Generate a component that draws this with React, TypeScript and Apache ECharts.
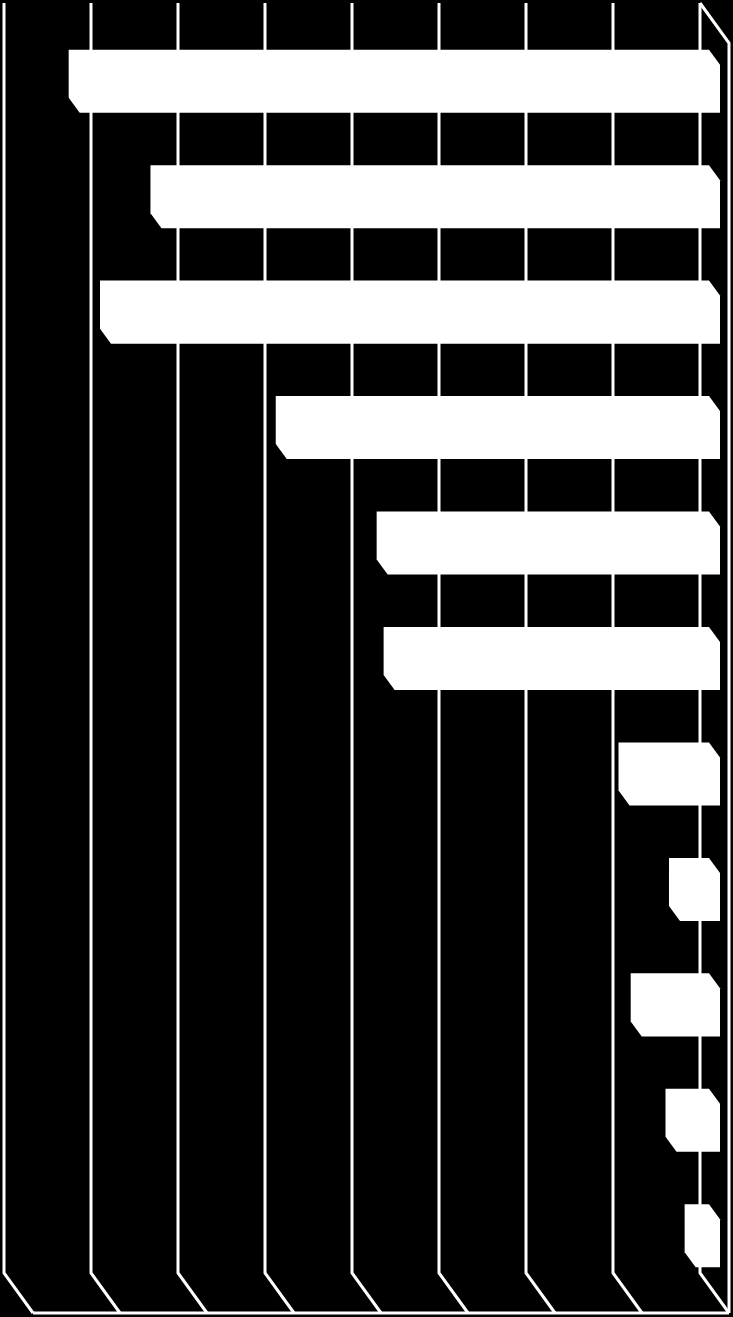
import React, { useEffect, useRef } from "react";
import * as echarts from "echarts";

const categories = ["1", "2", "3", "4", "5", "6", "7", "8", "9", "10", "11"];
const values = [36.8, 32.1, 35.0, 24.9, 19.1, 18.7, 5.2, 2.3, 4.5, 2.5, 1.4];
const ticks = [0, 5, 10, 15, 20, 25, 30, 35, 40];

// 3D depth offsets (px)
const DX = 29;
const DY = 40;
const BACK_DX = 9;
const BACK_DY = 13;
const FRONT_DX = 20;
const FRONT_DY = 28;
const BAR_FRACTION = 0.416;

export default function App() {
  const ref = useRef<HTMLDivElement>(null);

  useEffect(() => {
    if (!ref.current) return;
    const chart = echarts.init(ref.current, null, { renderer: "svg" });
    const lineStyle = { stroke: "#ffffff", lineWidth: 3, fill: "none" };

    chart.setOption({
      animation: false,
      backgroundColor: "#000000",
      grid: { left: 4, right: 33, top: 3, bottom: 44 },
      xAxis: {
        type: "value",
        inverse: true,
        min: 0,
        max: 40,
        interval: 5,
        axisLine: { show: false },
        axisTick: { show: false },
        axisLabel: { show: false },
        splitLine: { show: false },
      },
      yAxis: {
        type: "category",
        data: categories,
        inverse: true,
        axisLine: { show: false },
        axisTick: { show: false },
        axisLabel: { show: false },
        splitLine: { show: false },
      },
      series: [
        {
          type: "custom",
          silent: true,
          data: ticks.map((t) => [t, 0]),
          encode: { x: 0, y: 1 },
          renderItem: (params: any, api: any) => {
            const cs = params.coordSys;
            const x = api.coord([api.value(0), 0])[0];
            const top = cs.y;
            const bot = cs.y + cs.height;
            return {
              type: "polyline",
              shape: { points: [[x, top], [x, bot], [x + DX, bot + DY]] },
              style: lineStyle,
            };
          },
        },
        {
          type: "custom",
          silent: true,
          data: [[0, 0]],
          encode: { x: 0, y: 1 },
          renderItem: (params: any, api: any) => {
            const cs = params.coordSys;
            const xr = api.coord([ticks[0], 0])[0];
            const xl = api.coord([ticks[ticks.length - 1], 0])[0];
            const top = cs.y;
            const bot = cs.y + cs.height;
            return {
              type: "group",
              children: [
                {
                  type: "polyline",
                  shape: { points: [[xr, top], [xr + DX, top + DY], [xr + DX, bot + DY]] },
                  style: lineStyle,
                },
                {
                  type: "polyline",
                  shape: { points: [[xl + DX, bot + DY], [xr + DX, bot + DY]] },
                  style: lineStyle,
                },
              ],
            };
          },
        },
        {
          type: "custom",
          silent: true,
          data: values.map((v, i) => [v, i]),
          encode: { x: 0, y: 1 },
          renderItem: (params: any, api: any) => {
            const idx = api.value(1);
            const pL = api.coord([api.value(0), idx]);
            const pR = api.coord([0, idx]);
            const band = api.size([0, 1])[1];
            const h = band * BAR_FRACTION;
            const yT = pL[1] - h / 2;
            const yB = pL[1] + h / 2;
            const xL = pL[0];
            const xR = pR[0];
            return {
              type: "polygon",
              shape: {
                points: [
                  [xL + BACK_DX, yT + BACK_DY],
                  [xR + BACK_DX, yT + BACK_DY],
                  [xR + FRONT_DX, yT + FRONT_DY],
                  [xR + FRONT_DX, yB + FRONT_DY],
                  [xL + FRONT_DX, yB + FRONT_DY],
                  [xL + BACK_DX, yB + BACK_DY],
                ],
              },
              style: { fill: "#ffffff", stroke: "none" },
            };
          },
        },
      ],
    });

    return () => chart.dispose();
  }, []);

  return (
    <div
      ref={ref}
      style={{
        position: "fixed",
        left: 0,
        top: 0,
        width: 733,
        height: 1317,
        background: "#000",
      }}
    />
  );
}
